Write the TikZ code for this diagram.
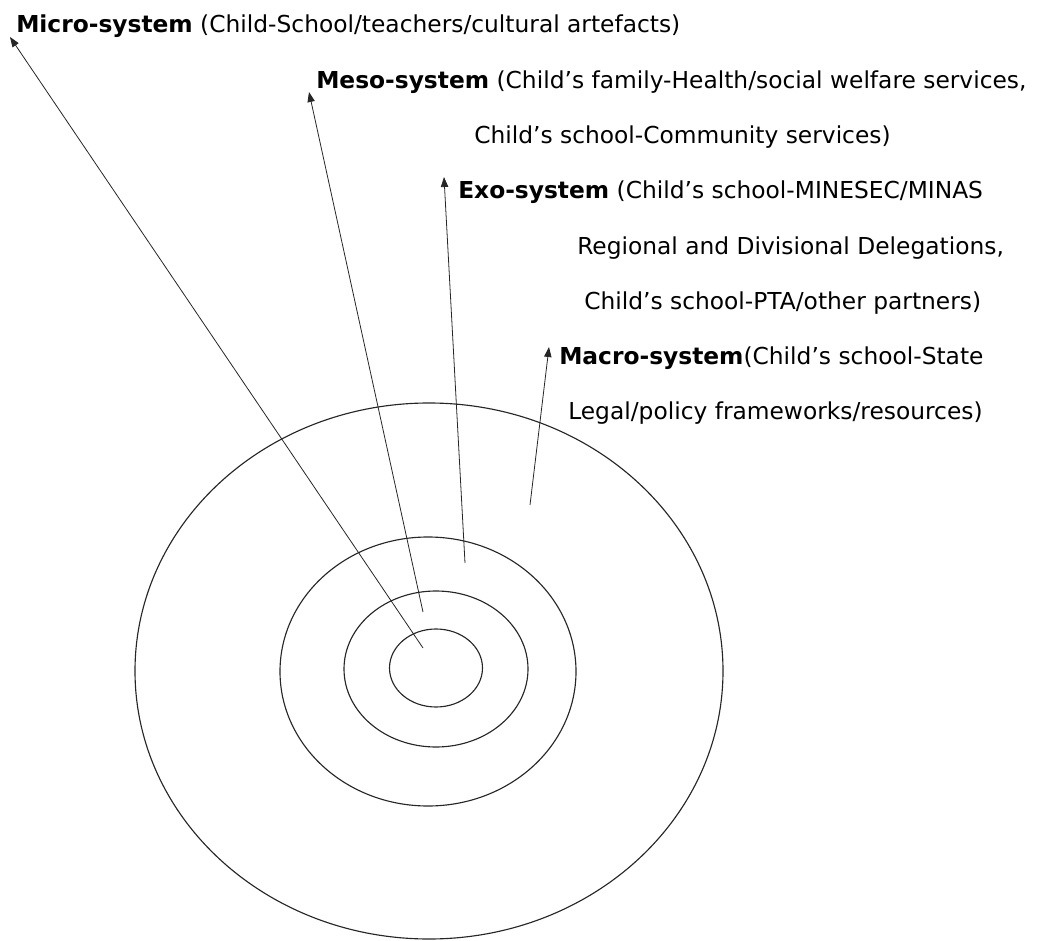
\documentclass[tikz,border=0pt]{standalone}
\usepackage{fontspec}
\setmainfont{DejaVu Sans}
\usepackage{tikz}
\usetikzlibrary{arrows.meta,shapes.geometric}
\tikzset{
  ring/.style={draw=black!85, ellipse, line width=0.85pt, inner sep=0pt},
  lbl/.style={anchor=base west, inner sep=0pt, font=\fontsize{17.5}{20}\selectfont},
  ptr/.style={-{Triangle[length=7.5pt,width=5.5pt]}, line width=0.6pt, black!85},
}

\begin{document}
\begin{tikzpicture}[x=0.75pt,y=-0.75pt]
\useasboundingbox (0,0) rectangle (1050,941);
% the four systems, outer to inner
\node[ring, minimum width=441pt, minimum height=402pt] (macro) at (429,671) {};
\node[ring, minimum width=222pt, minimum height=201.75pt] (exo) at (428,671.5) {};
\node[ring, minimum width=138pt, minimum height=117pt] (meso) at (436,669) {};
\node[ring, minimum width=69.75pt, minimum height=58.5pt] (micro) at (436,668) {};
% labels
\node[lbl] (micro-t) at (16,33) {\textbf{Micro-system} (Child-School/teachers/cultural artefacts)};
\node[lbl] (meso-t) at (316,89) {\textbf{Meso-system} (Child’s family-Health/social welfare services,};
\node[lbl] (meso-t2) at (474,144) {Child’s school-Community services)};
\node[lbl] (exo-t) at (458,199) {\textbf{Exo-system} (Child’s school-MINESEC/MINAS};
\node[lbl] (exo-t2) at (577,255) {Regional and Divisional Delegations,};
\node[lbl] (exo-t3) at (584,310) {Child’s school-PTA/other partners)};
\node[lbl] (macro-t) at (559,364) {\textbf{Macro-system}(Child’s school-State};
\node[lbl] (macro-t2) at (568,419) {Legal/policy frameworks/resources)};
% pointers from each ring to its label
\coordinate (micro-in) at (423,648);
\coordinate (micro-tip) at (10,37);
\coordinate (meso-in) at (423,612);
\coordinate (meso-tip) at (309,92);
\coordinate (exo-in) at (465,563);
\coordinate (exo-tip) at (444,177);
\coordinate (macro-in) at (530,505);
\coordinate (macro-tip) at (549,347);
\draw[ptr] (micro-in) -- (micro-tip);
\draw[ptr] (meso-in) -- (meso-tip);
\draw[ptr] (exo-in) -- (exo-tip);
\draw[ptr] (macro-in) -- (macro-tip);
\end{tikzpicture}
\end{document}
